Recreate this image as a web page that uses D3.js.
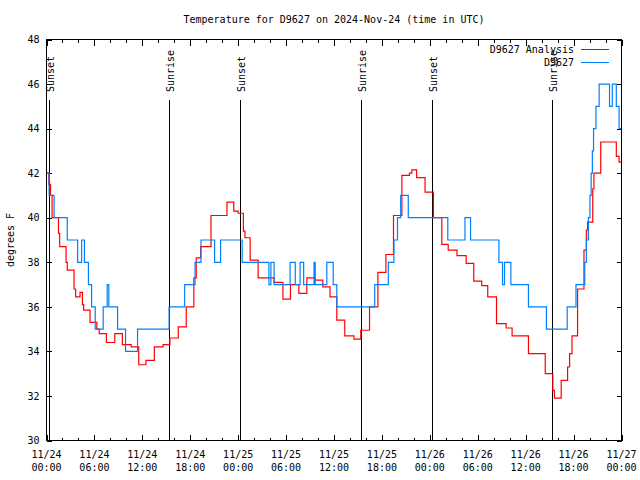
<!DOCTYPE html>
<html>
<head>
<meta charset="utf-8">
<script src="https://cdn.jsdelivr.net/npm/d3@7"></script>
<style>
  html, body { margin: 0; padding: 0; background: #fff; }
  svg { display: block; }
  text { font-family: "DejaVu Sans Mono", monospace; font-size: 10px; fill: #000; }
</style>
</head>
<body>
<svg id="chart" width="640" height="480"></svg>
<script>
// ---- data (hours after 2024-11-24 00:00 UTC) ----
const titleText = "Temperature for D9627 on 2024-Nov-24 (time in UTC)";
const yLabelText = "degrees F";
const yTicks = [30, 32, 34, 36, 38, 40, 42, 44, 46, 48];

const seriesNames = ["D9627 Analysis", "D9627"];

const redHours = [0, 0.3, 0.5, 0.7, 1.5, 1.65, 2.45, 2.6, 3.45, 3.65, 4.2, 4.5, 4.65, 5.45, 6.3,
  6.6, 7.5, 8.55, 9.5, 10.6, 11.55, 12.45, 13.5, 14.6, 15.45, 16.5, 17.5, 18.45, 18.75, 19.3,
  20.6, 22.6, 23.45, 24.0, 24.65, 24.85, 25.5, 26.5, 28.5, 29.6, 30.55, 31.6, 32.6, 33.65, 34.6,
  35.5, 36.35, 37.35, 38.5, 39.35, 40.45, 41.5, 42.5, 43.45, 44.5, 45.45, 45.75, 46.35, 47.4, 48.45,
  49.5, 50.3, 51.4, 52.55, 53.5, 54.5, 55.25, 56.35, 57.55, 58.3, 60.35, 62.45, 63.4, 63.6, 64.45,
  65.25, 65.5, 65.8, 66.5, 67.3, 67.6, 67.75, 68.4, 68.55, 69.4, 71.35, 71.7, 72];
const redTemps = [42.0, 41.5, 41.0, 40.0, 39.3, 38.7, 38.0, 37.65, 36.8, 36.45, 36.65, 36.1, 35.85, 35.3, 35.0,
  34.8, 34.4, 34.8, 34.3, 34.2, 33.4, 33.6, 34.2, 34.3, 34.6, 35.1, 36.0, 37.3, 38.2, 38.7,
  40.1, 40.7, 40.3, 40.2, 39.4, 39.1, 38.1, 37.3, 37.1, 36.35, 37.0, 36.6, 37.3, 37.2, 36.9,
  36.45, 35.4, 34.7, 34.55, 34.95, 36.0, 37.55, 38.35, 40.1, 41.9, 42.0, 42.15, 41.8, 41.15, 40.0,
  38.8, 38.55, 38.3, 37.95, 37.15, 36.95, 36.45, 35.25, 35.05, 34.7, 33.9, 33.0, 32.25, 31.9, 32.7,
  33.3, 33.9, 34.7, 36.8, 38.55, 39.45, 39.8, 41.3, 42.0, 43.4, 42.75, 42.5, 42.5];

const blueHours = [0, 0.33, 0.95, 2.6, 3.9, 4.4, 4.75, 5.25, 5.65, 6.1, 7.1, 7.6, 7.8, 8.9, 9.9,
  11.4, 15.35, 17.3, 18.6, 19.35, 21.05, 21.8, 24.5, 27.85, 28.1, 28.5, 30.5, 31.15, 31.75, 32.2,
  33.5, 33.65, 35.1, 35.9, 36.35, 41.1, 42.8, 43.5, 43.95, 44.35, 45.3, 50.25, 52.4, 53.1, 56.65,
  57.1, 57.35, 58.15, 60.35, 62.6, 65.2, 66.3, 67.4, 67.6, 67.85, 68.05, 68.2, 68.35, 68.5, 68.8,
  69.2, 70.5, 70.85, 71.35, 71.7, 72];
const blueTemps = [42, 41, 40, 39, 38, 39, 38, 37, 36, 35, 36, 37, 36, 35, 34,
  35, 36, 37, 38, 39, 38, 39, 38, 37, 38, 37, 38, 37, 38, 37,
  38, 37, 38, 37, 36, 37, 38, 39, 40, 41, 40, 39, 40, 39, 38,
  37, 38, 37, 36, 35, 36, 37, 38, 39, 40, 41, 42, 43, 44, 45,
  46, 45, 46, 45, 44, 44];

const sunHours = [0.33, 15.36, 24.26, 39.4, 48.3, 63.35];
const sunLabels = ["Sunset", "Sunrise", "Sunset", "Sunrise", "Sunset", "Sunrise"];

// ---- setup ----
const t0 = Date.UTC(2024, 10, 24, 0, 0);
const toDate = h => new Date(t0 + h * 3600e3);
const svg = d3.select("#chart");
const L = 46.5, R = 621.5, T = 39.5, B = 440.5;

const x = d3.scaleUtc().domain([toDate(0), toDate(72)]).range([L, R]);
const y = d3.scaleLinear().domain([30, 48]).range([B, T]);

// title
svg.append("text").attr("x", (L + R) / 2).attr("y", 22.5)
  .attr("text-anchor", "middle").text(titleText);
// y label
svg.append("text").attr("transform", "translate(13.5,240) rotate(-90)")
  .attr("text-anchor", "middle").text(yLabelText);

// axes ticks
const g = svg.append("g").attr("shape-rendering", "crispEdges");
function strip(sel) { sel.select(".domain").remove(); sel.selectAll("line").attr("stroke", "#000"); }

g.append("g").attr("transform", `translate(0,${B})`)
  .call(d3.axisBottom(x).ticks(d3.utcHour.every(2)).tickSize(-3).tickFormat(""))
  .call(strip);
g.append("g").attr("transform", `translate(0,${B})`)
  .call(d3.axisBottom(x).ticks(d3.utcHour.every(6)).tickSize(-6).tickFormat(""))
  .call(strip);
g.append("g").attr("transform", `translate(0,${T})`)
  .call(d3.axisTop(x).ticks(d3.utcHour.every(2)).tickSize(-3).tickFormat(""))
  .call(strip);
g.append("g").attr("transform", `translate(0,${T})`)
  .call(d3.axisTop(x).ticks(d3.utcHour.every(6)).tickSize(-6).tickFormat(""))
  .call(strip);

const leftAx = g.append("g").attr("transform", `translate(${L},0)`)
  .call(d3.axisLeft(y).tickValues(yTicks).tickSize(-5).tickPadding(7).tickFormat(d3.format("d")))
  .call(strip);
leftAx.selectAll("text").attr("font-family", "DejaVu Sans Mono").attr("font-size", 10).attr("fill", "#000");
g.append("g").attr("transform", `translate(${R},0)`)
  .call(d3.axisRight(y).tickValues(yTicks).tickSize(-5).tickFormat(""))
  .call(strip);

// x tick labels (two lines)
const fmtD = d3.utcFormat("%m/%d"), fmtT = d3.utcFormat("%H:%M");
const majorTicks = x.ticks(d3.utcHour.every(6));
const xl = svg.append("g").selectAll("text").data(majorTicks).join("text")
  .attr("text-anchor", "middle");
xl.append("tspan").attr("x", d => x(d)).attr("y", 457.5).text(d => fmtD(d));
xl.append("tspan").attr("x", d => x(d)).attr("y", 470.5).text(d => fmtT(d));

// sun lines
const sun = svg.append("g");
sun.selectAll("line").data(sunHours).join("line")
  .attr("x1", d => Math.round(x(toDate(d))) + 0.5).attr("x2", d => Math.round(x(toDate(d))) + 0.5)
  .attr("y1", 100).attr("y2", B)
  .attr("stroke", "#000").attr("stroke-width", 1).attr("shape-rendering", "crispEdges");
sun.selectAll("text").data(sunHours).join("text")
  .attr("transform", d => `translate(${Math.round(x(toDate(d))) + 4.5},92) rotate(-90)`)
  .attr("text-anchor", "start")
  .text((d, i) => sunLabels[i]);

// series
const line = d3.line().curve(d3.curveStepAfter)
  .x(d => x(toDate(d[0]))).y(d => y(d[1]));
const redData = d3.zip(redHours, redTemps);
const blueData = d3.zip(blueHours, blueTemps);
const colors = ["#ff0000", "#0080ff"];

svg.append("path").datum(redData).attr("d", line)
  .attr("fill", "none").attr("stroke", colors[0]).attr("stroke-width", 1.2);
svg.append("path").datum(blueData).attr("d", line)
  .attr("fill", "none").attr("stroke", colors[1]).attr("stroke-width", 1.2);

// border
svg.append("rect").attr("x", L).attr("y", T).attr("width", R - L).attr("height", B - T)
  .attr("fill", "none").attr("stroke", "#000").attr("shape-rendering", "crispEdges");

// legend
const leg = svg.append("g");
seriesNames.forEach((name, i) => {
  const ly = 49.5 + i * 13;
  leg.append("text").attr("x", 574).attr("y", ly + 3.5).attr("text-anchor", "end").text(name);
  leg.append("line").attr("x1", 581).attr("x2", 609).attr("y1", ly).attr("y2", ly)
    .attr("stroke", colors[i]).attr("stroke-width", 1.2).attr("shape-rendering", "crispEdges");
});
</script>
</body>
</html>
